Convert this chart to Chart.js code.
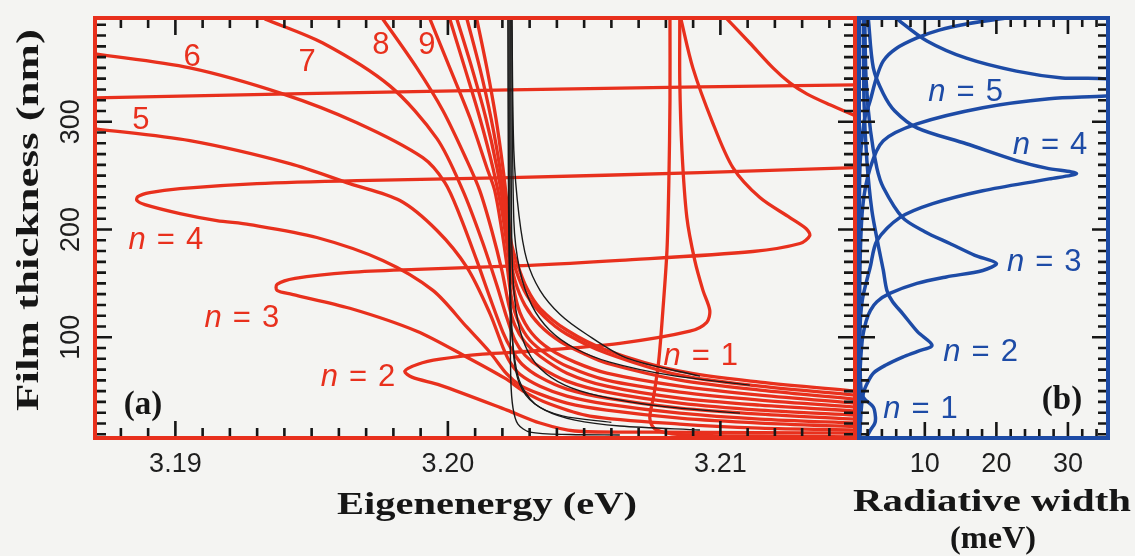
<!DOCTYPE html>
<html>
<head>
<meta charset="utf-8">
<title>Exciton-polariton modes vs film thickness</title>
<script src="https://cdn.jsdelivr.net/npm/chart.js@4.4.1/dist/chart.umd.min.js"></script>
<style>
  html, body { margin: 0; padding: 0; background: #f4f4f2; }
  #wrap { position: relative; width: 1135px; height: 556px; overflow: hidden; background: #f4f4f2; }
  canvas { position: absolute; top: 0; }
  #ca { left: 0; width: 857px; height: 556px; }
  #cb { left: 850px; width: 285px; height: 556px; }
</style>
</head>
<body>
<div id="wrap">
  <canvas id="ca" width="857" height="556"></canvas>
  <canvas id="cb" width="285" height="556"></canvas>
</div>
<script>
// ---------- axis ranges and tick labels ----------
const energyRange = [3.18705, 3.21494];      // eV
const thicknessRange = [6.5, 396.3];         // nm
const widthRange = [0.8, 35.6];              // meV
const energyTicks = [3.19, 3.20, 3.21];
const energyTickLabels = ['3.19', '3.20', '3.21'];
const thicknessTicks = [100, 200, 300];
const thicknessTickLabels = ['100', '200', '300'];
const widthTicks = [10, 20, 30];
const widthTickLabels = ['10', '20', '30'];

// ---------- panel (a): eigenenergy [eV] vs film thickness [nm] ----------
const mode1 = [[3.20815,395.4],[3.20815,319.4],[3.20811,245.4],[3.20804,180.6],[3.20789,125.0],[3.20774,78.7],[3.20756,46.3],[3.20741,25.0],[3.20760,14.8],[3.20851,9.6],[3.21145,8.4],[3.21494,7.6]];
const mode2 = [[3.20851,395.4],[3.20851,338.0],[3.20859,273.1],[3.20877,211.1],[3.20906,171.3],[3.20936,143.5],[3.20961,125.0],[3.20950,113.9],[3.20888,105.6],[3.20631,94.4],[3.20301,87.0],[3.20128,84.3],[3.19971,79.6],[3.19890,75.0],[3.19842,68.5],[3.19868,63.0],[3.19971,55.6],[3.20217,32.4],[3.20338,20.4],[3.20466,13.0],[3.20741,12.0],[3.21145,11.4],[3.21494,11.0]];
const mode3 = [[3.20855,395.4],[3.20899,350.0],[3.20969,300.9],[3.21046,257.4],[3.21145,229.6],[3.21255,211.1],[3.21314,200.9],[3.21328,194.4],[3.21292,187.0],[3.21119,179.6],[3.20631,171.3],[3.20301,166.7],[3.19886,163.0],[3.19640,160.2],[3.19439,154.6],[3.19373,149.1],[3.19373,143.5],[3.19428,139.8],[3.19640,126.9],[3.19886,105.6],[3.20070,81.5],[3.20209,62.0],[3.20283,49.1],[3.20374,38.0],[3.20521,26.9],[3.20851,19.4],[3.21145,15.7],[3.21494,13.9]];
const mode4 = [[3.21494,257.4],[3.20925,252.8],[3.20228,248.1],[3.19666,245.4],[3.19299,242.6],[3.19017,238.0],[3.18906,234.3],[3.18862,230.6],[3.18859,226.9],[3.18888,223.1],[3.19017,214.8],[3.19152,208.3],[3.19273,204.6],[3.19519,192.6],[3.19761,171.3],[3.19945,143.5],[3.20070,109.3],[3.20154,86.1],[3.20217,65.7],[3.20264,55.6],[3.20338,47.2],[3.20437,38.9],[3.20583,32.4],[3.20851,25.0],[3.21145,20.4],[3.21494,17.1]];
const mode5Upper = [[3.18705,322.2],[3.19420,325.9],[3.20228,329.6],[3.20925,332.4],[3.21494,334.3]];
const mode5 = [[3.18705,293.5],[3.19053,282.4],[3.19420,261.1],[3.19640,242.6],[3.19824,226.9],[3.19960,199.1],[3.20070,164.8],[3.20154,122.2],[3.20202,90.7],[3.20228,76.9],[3.20264,65.7],[3.20338,54.6],[3.20437,45.4],[3.20583,38.0],[3.20851,29.6],[3.21145,24.1],[3.21494,20.4]];
const mode6 = [[3.18705,363.0],[3.19053,350.0],[3.19394,325.9],[3.19666,299.1],[3.19908,266.7],[3.19989,243.5],[3.20044,213.0],[3.20106,171.3],[3.20154,137.0],[3.20202,104.6],[3.20235,88.0],[3.20272,75.0],[3.20338,63.0],[3.20437,51.9],[3.20583,43.5],[3.20851,34.3],[3.21145,28.7],[3.21494,24.1]];
const mode7 = [[3.19328,395.4],[3.19541,373.1],[3.19787,333.3],[3.19960,284.3],[3.20055,236.1],[3.20125,189.8],[3.20180,148.1],[3.20217,117.6],[3.20246,97.2],[3.20283,83.3],[3.20338,72.2],[3.20437,59.3],[3.20583,49.1],[3.20851,38.9],[3.21145,32.4],[3.21494,27.8]];
const mode8 = [[3.19761,395.4],[3.19886,350.0],[3.19982,310.2],[3.20070,263.9],[3.20117,236.1],[3.20161,199.1],[3.20198,162.0],[3.20224,129.6],[3.20246,111.1],[3.20283,95.4],[3.20338,82.4],[3.20437,66.7],[3.20583,54.6],[3.20851,43.5],[3.21145,37.0],[3.21494,31.5]];
const mode9 = [[3.19934,395.4],[3.20007,350.0],[3.20081,303.7],[3.20143,257.4],[3.20172,236.1],[3.20198,199.1],[3.20217,166.7],[3.20235,134.3],[3.20257,115.7],[3.20301,97.2],[3.20367,83.3],[3.20437,73.1],[3.20583,60.2],[3.20851,49.1],[3.21145,41.7],[3.21494,35.2]];
const mode10 = [[3.20007,395.4],[3.20062,350.0],[3.20117,303.7],[3.20165,257.4],[3.20198,217.6],[3.20220,180.6],[3.20239,148.1],[3.20264,123.1],[3.20308,103.7],[3.20374,88.9],[3.20466,76.9],[3.20583,66.7],[3.20851,54.6],[3.21145,46.3],[3.21494,38.9]];
const mode11 = [[3.20033,395.4],[3.20088,350.0],[3.20139,303.7],[3.20180,257.4],[3.20206,217.6],[3.20224,180.6],[3.20246,152.8],[3.20283,129.6],[3.20338,111.1],[3.20411,96.3],[3.20503,84.3],[3.20583,75.9],[3.20851,60.2],[3.21145,50.9],[3.21494,42.6]];
const mode12 = [[3.20070,395.4],[3.20117,350.0],[3.20158,303.7],[3.20191,257.4],[3.20213,217.6],[3.20228,185.2],[3.20250,162.0],[3.20290,138.9],[3.20356,118.5],[3.20437,102.8],[3.20583,85.2],[3.20851,64.8],[3.21145,54.6],[3.21494,46.3]];
const mode13 = [[3.20106,395.4],[3.20143,350.0],[3.20176,303.7],[3.20202,257.4],[3.20220,217.6],[3.20231,189.8],[3.20253,169.4],[3.20290,145.4],[3.20338,126.9],[3.20437,106.5],[3.20583,88.0],[3.20851,68.5],[3.21145,58.3],[3.21494,50.0]];
const upperRightBranch = [[3.21024,395.4],[3.21108,373.1],[3.21193,350.0],[3.21255,336.1],[3.21317,325.9],[3.21402,315.7],[3.21494,305.6]];

// thin black curves (comparison calculation)
const ref1 = [[3.20224,395.4],[3.20224,226.9],[3.20228,134.3],[3.20231,60.2],[3.20239,34.3],[3.20257,19.4],[3.20301,12.0],[3.20448,9.7],[3.20631,9.3]];
const ref2 = [[3.20228,395.4],[3.20228,180.6],[3.20235,106.5],[3.20250,67.6],[3.20286,46.3],[3.20356,32.4],[3.20466,23.1],[3.20631,17.6],[3.20925,13.9]];
const ref3 = [[3.20231,395.4],[3.20235,180.6],[3.20250,125.0],[3.20283,92.6],[3.20338,71.3],[3.20429,55.6],[3.20558,45.4],[3.20778,36.1],[3.21072,29.6]];
const ref4 = [[3.20235,395.4],[3.20242,208.3],[3.20264,162.0],[3.20308,129.6],[3.20374,106.5],[3.20466,89.8],[3.20594,76.9],[3.20815,64.8],[3.21108,55.6]];
const ref5 = [[3.20235,395.4],[3.20242,273.1],[3.20261,213.0],[3.20290,171.3],[3.20338,143.5],[3.20411,121.3],[3.20503,103.7],[3.20657,80.6],[3.20925,63.9]];
const ref6 = [[3.20220,395.4],[3.20222,250.0],[3.20226,160.0],[3.20236,100.0],[3.20262,60.0],[3.20320,38.0],[3.20420,27.0],[3.20600,21.0]];

// mode labels of panel (a)
const labelTextA = ['5', '6', '7', '8', '9', 'n = 4', 'n = 3', 'n = 2', 'n = 1'];
const labelEnergyA = [3.18873, 3.19061, 3.19483, 3.19754, 3.19923, 3.18965, 3.19244, 3.19670, 3.20928];
const labelThicknessA = [300.9, 359.3, 354.6, 370.4, 370.4, 189.8, 117.6, 63.0, 82.4];

// ---------- panel (b): radiative width [meV] vs film thickness [nm] ----------
const width1 = [[1.8,6.5],[2.4,13.9],[3.0,20.0],[3.1,26.0],[2.8,35.2],[1.4,44.4],[1.0,60.0],[0.85,150.0],[0.8,396.0]];
const width2 = [[0.9,6.5],[1.1,32.0],[1.4,48.0],[2.0,58.0],[2.8,66.7],[4.5,74.0],[6.9,81.5],[9.0,87.0],[11.0,92.6],[9.0,105.0],[6.9,122.0],[5.5,133.0],[4.7,143.5],[4.2,162.0],[3.5,185.0],[2.6,217.6],[1.9,264.0],[1.5,319.0],[1.4,396.0]];
const width3 = [[0.8,6.5],[0.9,60.0],[1.25,97.2],[1.8,115.0],[2.4,125.0],[3.3,133.0],[5.1,140.7],[8.9,150.0],[13.0,156.0],[18.1,162.0],[20.0,168.5],[17.0,176.0],[13.5,187.0],[10.0,198.0],[6.9,211.0],[4.2,239.0],[3.3,257.0],[2.4,292.0],[1.8,338.0],[1.6,396.0]];
const width4 = [[0.85,6.5],[0.9,100.0],[1.25,134.0],[2.36,164.8],[3.33,189.8],[6.5,211.0],[11.1,224.0],[18.1,236.0],[27.4,247.0],[31.2,252.0],[27.0,257.0],[22.8,264.0],[15.8,279.6],[8.9,294.4],[5.8,310.0],[4.2,326.0],[2.8,350.0],[2.1,396.0]];
const width5 = [[0.85,6.5],[0.9,150.0],[1.3,220.0],[2.36,257.0],[4.2,282.4],[8.9,298.0],[18.1,313.0],[27.4,321.3],[35.3,324.0],[46.0,330.0],[35.3,339.8],[29.2,340.7],[22.8,347.0],[15.8,359.0],[10.3,375.0],[6.5,393.5],[5.5,400.0]];
const width6 = [[0.85,6.5],[0.9,250.0],[1.5,300.0],[2.36,319.4],[3.2,340.0],[4.2,356.5],[6.0,368.0],[8.9,377.8],[12.0,385.0],[15.8,390.7],[20.4,395.4],[26.0,400.0]];

const labelTextB = ['n = 5', 'n = 4', 'n = 3', 'n = 2', 'n = 1'];
const labelWidthB = [15.7, 27.5, 26.7, 17.8, 9.4];
const labelThicknessB = [326.9, 277.8, 169.4, 86.1, 33.3];

// ---------- styling ----------
const RED = '#e8301d';
const BLUE = '#1d4ba6';
const INK = '#161616';
const SANS = '"Liberation Sans", Arial, Helvetica, sans-serif';
const SERIF = '"Liberation Serif", "Times New Roman", serif';

function toPoints(curve) {
  return curve.map(p => ({ x: p[0], y: p[1] }));
}
function lineSet(curve, color, width) {
  return {
    data: toPoints(curve), showLine: true, borderColor: color, borderWidth: width,
    pointRadius: 0, pointHoverRadius: 0, pointHitRadius: 0, tension: 0.3,
    capBezierPoints: false, fill: false, clip: 0
  };
}

// label with an italic "n" followed by "= k"
function drawModeLabel(ctx, text, cx, cy, color) {
  ctx.fillStyle = color;
  ctx.textBaseline = 'middle';
  ctx.textAlign = 'left';
  const size = 31;
  if (text.startsWith('n')) {
    const rest = text.slice(text.indexOf('=') + 1).trim();
    ctx.font = 'italic ' + size + 'px ' + SANS;
    const wN = ctx.measureText('n').width;
    ctx.font = size + 'px ' + SANS;
    const wEq = ctx.measureText('=').width;
    const wR = ctx.measureText(rest).width;
    const gap = 11;
    const total = wN + gap + wEq + gap + wR;
    const x0 = cx - total / 2;
    ctx.font = 'italic ' + size + 'px ' + SANS;
    ctx.fillText('n', x0, cy);
    ctx.font = size + 'px ' + SANS;
    ctx.fillText('=', x0 + wN + gap, cy);
    ctx.fillText(rest, x0 + wN + gap + wEq + gap, cy);
  } else {
    ctx.font = size + 'px ' + SANS;
    ctx.textAlign = 'center';
    ctx.fillText(text, cx, cy);
  }
}

// bold serif text stretched to a given width
function drawTitle(ctx, text, cx, cy, size, targetWidth, rotate) {
  ctx.save();
  ctx.font = 'bold ' + size + 'px ' + SERIF;
  const w = ctx.measureText(text).width;
  ctx.translate(cx, cy);
  if (rotate) ctx.rotate(-Math.PI / 2);
  ctx.scale(targetWidth / w, 1);
  ctx.fillStyle = INK;
  ctx.textAlign = 'center';
  ctx.textBaseline = 'middle';
  ctx.fillText(text, 0, 0);
  ctx.restore();
}

function makeDecor(cfg) {
  return {
    id: 'decor',
    afterDatasetsDraw(chart) {
      const ctx = chart.ctx;
      const a = chart.chartArea;
      const xs = chart.scales.x, ys = chart.scales.y;
      ctx.save();
      // inward ticks on all four sides
      ctx.strokeStyle = INK;
      ctx.lineWidth = 2.6;
      ctx.beginPath();
      cfg.xMinor.forEach(t => {
        const px = xs.getPixelForValue(t.v);
        const len = t.major ? cfg.xMajorLen : cfg.xMinorLen;
        ctx.moveTo(px, a.bottom); ctx.lineTo(px, a.bottom - len);
        ctx.moveTo(px, a.top); ctx.lineTo(px, a.top + len);
      });
      cfg.yMinor.forEach(t => {
        const py = ys.getPixelForValue(t.v);
        const len = t.major ? cfg.yMajorLen : cfg.yMinorLen;
        ctx.moveTo(a.left, py); ctx.lineTo(a.left + len, py);
        ctx.moveTo(a.right, py); ctx.lineTo(a.right - len, py);
      });
      ctx.stroke();
      // frame
      ctx.strokeStyle = cfg.frameColor;
      ctx.lineWidth = 4;
      ctx.strokeRect(a.left, a.top, a.right - a.left, a.bottom - a.top);
      // tick labels
      ctx.fillStyle = '#1e1e1e';
      ctx.font = '27px ' + SANS;
      ctx.textAlign = 'center';
      ctx.textBaseline = 'middle';
      cfg.xTicks.forEach((v, i) => {
        ctx.fillText(cfg.xTickLabels[i], xs.getPixelForValue(v), 465);
      });
      if (cfg.yTicks) {
        cfg.yTicks.forEach((v, i) => {
          ctx.save();
          ctx.translate(72, ys.getPixelForValue(v));
          ctx.rotate(-Math.PI / 2);
          ctx.fillText(cfg.yTickLabels[i], 0, 0);
          ctx.restore();
        });
      }
      // curve labels
      cfg.labels.text.forEach((t, i) => {
        drawModeLabel(ctx, t, xs.getPixelForValue(cfg.labels.x[i]), ys.getPixelForValue(cfg.labels.y[i]), cfg.labelColor);
      });
      // panel tag
      ctx.fillStyle = INK;
      ctx.font = 'bold 33px ' + SERIF;
      ctx.textAlign = 'center';
      ctx.textBaseline = 'middle';
      const tp = cfg.tagPos(a);
      ctx.fillText(cfg.tag, tp[0], tp[1]);
      // axis titles
      cfg.titles.forEach(t => drawTitle(ctx, t.text, t.x, t.y, t.size, t.w, t.rot));
      ctx.restore();
    }
  };
}

function range(from, to, step) {
  const out = [];
  for (let i = 0; from + i * step <= to + 1e-9; i++) out.push(+(from + i * step).toFixed(6));
  return out;
}
const energyMinor = range(3.188, 3.214, 0.001).map(v => ({ v, major: Math.round(v * 1000) % 10 === 0 }));
const thicknessMinor = range(10, 390, 10).map(v => ({ v, major: v % 100 === 0 }));
const widthMinor = range(2, 34, 2).map(v => ({ v, major: v % 10 === 0 }));

const panelA = [mode1, mode2, mode3, mode4, mode5Upper, mode5, mode6, mode7, mode8, mode9, mode10, mode11, mode12, mode13, upperRightBranch];
const panelARef = [ref1, ref2, ref3, ref4, ref5, ref6];
const panelB = [width1, width2, width3, width4, width5, width6];

new Chart(document.getElementById('ca'), {
  type: 'scatter',
  data: {
    datasets: [
      ...panelARef.map(c => lineSet(c, '#1a1a1a', 1.4)),
      ...panelA.map(c => lineSet(c, RED, 3.3))
    ]
  },
  options: {
    responsive: false, animation: false, events: [], devicePixelRatio: 1,
    layout: { padding: { left: 95, right: 2, top: 18, bottom: 118 } },
    plugins: { legend: { display: false }, tooltip: { enabled: false } },
    scales: {
      x: { type: 'linear', display: false, min: energyRange[0], max: energyRange[1] },
      y: { type: 'linear', display: false, min: thicknessRange[0], max: thicknessRange[1] }
    }
  },
  plugins: [makeDecor({
    frameColor: RED, labelColor: RED,
    xMinor: energyMinor, yMinor: thicknessMinor,
    xMajorLen: 17, xMinorLen: 10, yMajorLen: 17, yMinorLen: 11,
    xTicks: energyTicks, xTickLabels: energyTickLabels,
    yTicks: thicknessTicks, yTickLabels: thicknessTickLabels,
    labels: { text: labelTextA, x: labelEnergyA, y: labelThicknessA },
    tag: '(a)', tagPos: a => [a.left + 48, a.bottom - 33],
    titles: [
      { text: 'Eigenenergy (eV)', x: 487, y: 506, size: 31, w: 300, rot: false },
      { text: 'Film thickness (nm)', x: 30, y: 220, size: 31, w: 382, rot: true }
    ]
  })]
});

new Chart(document.getElementById('cb'), {
  type: 'scatter',
  data: { datasets: panelB.map(c => lineSet(c, BLUE, 3.5)) },
  options: {
    responsive: false, animation: false, events: [], devicePixelRatio: 1,
    layout: { padding: { left: 9, right: 27, top: 18, bottom: 118 } },
    plugins: { legend: { display: false }, tooltip: { enabled: false } },
    scales: {
      x: { type: 'linear', display: false, min: widthRange[0], max: widthRange[1] },
      y: { type: 'linear', display: false, min: thicknessRange[0], max: thicknessRange[1] }
    }
  },
  plugins: [makeDecor({
    frameColor: BLUE, labelColor: BLUE,
    xMinor: widthMinor, yMinor: thicknessMinor,
    xMajorLen: 16, xMinorLen: 9, yMajorLen: 16, yMinorLen: 10,
    xTicks: widthTicks, xTickLabels: widthTickLabels,
    labels: { text: labelTextB, x: labelWidthB, y: labelThicknessB },
    tag: '(b)', tagPos: a => [a.right - 46, a.bottom - 38],
    titles: [
      { text: 'Radiative width', x: 142, y: 503, size: 31, w: 278, rot: false },
      { text: '(meV)', x: 143, y: 540, size: 31, w: 86, rot: false }
    ]
  })]
});
</script>
</body>
</html>
